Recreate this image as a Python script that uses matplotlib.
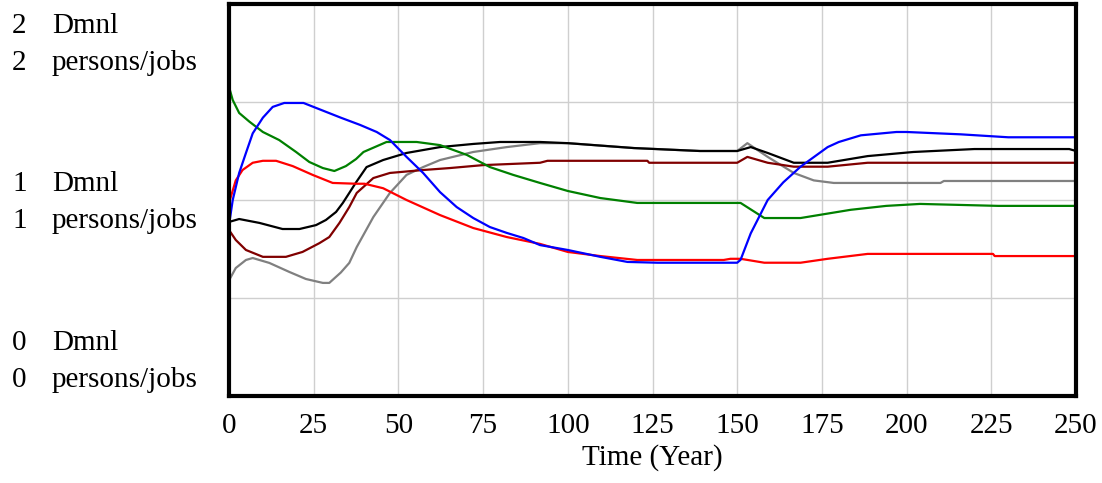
import matplotlib
matplotlib.use("Agg")
import matplotlib.pyplot as plt

plt.rcParams['font.family'] = ['Liberation Serif', 'DejaVu Serif']

# data (time in years, value)
blue_t = [0, 1.1, 3, 5, 7, 10, 12.9, 16.3, 22, 28.6, 33, 38.7, 43.6, 47.5, 52.4, 57.3, 62.3, 67.2,
          72.1, 77, 82, 86.9, 91.8, 100, 109.6, 117.6, 126.5, 150, 151, 154, 159, 163.6, 168.7,
          176.7, 180, 186.5, 197, 200, 216, 230, 250]
blue_v = [0.872, 1.0, 1.138, 1.24, 1.34, 1.42, 1.475, 1.495, 1.495, 1.45, 1.42, 1.383, 1.347, 1.306,
          1.22, 1.138, 1.04, 0.964, 0.908, 0.862, 0.832, 0.806, 0.77, 0.745, 0.71, 0.684, 0.68, 0.68,
          0.695, 0.83, 1.0, 1.09, 1.17, 1.27, 1.296, 1.33, 1.347, 1.347, 1.335, 1.32, 1.32]

red_t = [0, 2, 4, 7, 10, 13.9, 18.8, 24.7, 30.6, 37.5, 40, 45.5, 52.4, 62.3, 72.1, 82, 91.8, 100,
         109.6, 120.5, 146, 148, 151, 158, 168.7, 176.7, 188.5, 225.5, 226, 250]
red_v = [0.985, 1.10, 1.153, 1.19, 1.2, 1.2, 1.173, 1.128, 1.087, 1.083, 1.083, 1.06, 1.0, 0.923,
         0.857, 0.811, 0.776, 0.735, 0.714, 0.694, 0.694, 0.70, 0.70, 0.68, 0.68, 0.70, 0.725, 0.725,
         0.714, 0.714]

green_t = [0, 1.1, 3, 6, 10, 14.8, 19.8, 23.7, 27.7, 31.1, 34.5, 37.5, 39.7, 46.5, 55.4, 62.3, 70.2,
           77, 83.9, 91.8, 100, 109.6, 120.5, 151, 158, 168.7, 183.5, 194, 204, 227, 250]
green_v = [1.577, 1.51, 1.444, 1.40, 1.347, 1.306, 1.245, 1.194, 1.163, 1.148, 1.173, 1.209, 1.245,
           1.296, 1.296, 1.28, 1.23, 1.168, 1.128, 1.087, 1.046, 1.01, 0.985, 0.985, 0.908, 0.908,
           0.95, 0.97, 0.98, 0.97, 0.97]

black_t = [0, 3, 9, 15.8, 20.8, 25.7, 28.6, 31.6, 33.6, 35.5, 37.5, 40.6, 45.5, 52.4, 62.3, 72.1, 80,
           91.8, 100, 119.5, 139, 150, 154, 159, 166.7, 176.7, 188.5, 202, 220, 248, 250]
black_v = [0.888, 0.903, 0.883, 0.852, 0.852, 0.872, 0.898, 0.939, 0.985, 1.036, 1.09, 1.168, 1.204,
           1.24, 1.27, 1.286, 1.296, 1.296, 1.29, 1.265, 1.25, 1.25, 1.27, 1.24, 1.19, 1.19, 1.224,
           1.245, 1.26, 1.26, 1.25]

maroon_t = [0, 2, 5, 10, 16.8, 21.7, 26.7, 29.6, 32.6, 35.5, 37.7, 42.6, 47.5, 57.3, 65.2, 75, 91.8,
            94, 123.5, 124, 150, 153, 159, 166.7, 176.7, 188.5, 250]
maroon_v = [0.847, 0.796, 0.745, 0.71, 0.71, 0.735, 0.78, 0.811, 0.883, 0.964, 1.036, 1.112, 1.138,
            1.153, 1.163, 1.178, 1.19, 1.2, 1.2, 1.19, 1.19, 1.22, 1.19, 1.17, 1.17, 1.19, 1.19]

gray_t = [0, 2, 5, 7, 11.9, 17.8, 22.7, 27.7, 29.6, 33, 35.5, 37.7, 42.6, 47.5, 52.4, 57.3, 62.3,
          72.1, 82, 91.8, 100, 119.5, 139, 150, 153, 159, 166.7, 172.6, 178.5, 210, 211, 250]
gray_v = [0.59, 0.653, 0.694, 0.704, 0.679, 0.633, 0.597, 0.577, 0.577, 0.63, 0.679, 0.76, 0.913,
          1.036, 1.128, 1.168, 1.204, 1.245, 1.27, 1.29, 1.29, 1.265, 1.25, 1.25, 1.29, 1.22, 1.138,
          1.10, 1.087, 1.087, 1.097, 1.097]

x_ticks = [0, 25, 50, 75, 100, 125, 150, 175, 200, 225, 250]
y_values = ["2", "1", "0"]
units = ["Dmnl", "persons/jobs"]

fig = plt.figure(figsize=(11.02, 4.83), dpi=100)
ax = fig.add_axes([229 / 1102, 1 - 396 / 483, 847 / 1102, 392 / 483])

ax.plot(gray_t, gray_v, color='#808080', lw=1.6)
ax.plot(maroon_t, maroon_v, color='#800000', lw=1.6)
ax.plot(black_t, black_v, color='black', lw=1.6)
ax.plot(green_t, green_v, color='#008000', lw=1.6)
ax.plot(red_t, red_v, color='#ff0000', lw=1.6)
ax.plot(blue_t, blue_v, color='#0000ff', lw=1.6)

ax.set_xlim(0, 250)
ax.set_ylim(0, 2)
ax.set_xticks(x_ticks)
ax.set_xticklabels([str(t) for t in x_ticks])
ax.set_yticks([0.5, 1, 1.5])
ax.set_yticklabels([])
ax.grid(True, color='#cfcfcf', lw=1)
ax.set_axisbelow(True)
ax.tick_params(axis='x', length=0, pad=12, labelsize=21)
ax.tick_params(axis='y', length=0)
for s in ax.spines.values():
    s.set_linewidth(3)
    s.set_color('black')
ax.set_xlabel("Time (Year)", fontsize=21, labelpad=4)

# left-hand unit labels
baselines = [(33, 70), (191, 228), (350, 387)]
for val, (b1, b2) in zip(y_values, baselines):
    fig.text(12 / 1102, 1 - b1 / 483, val, fontsize=21, va='baseline')
    fig.text(52 / 1102, 1 - b1 / 483, units[0], fontsize=21, va='baseline')
    fig.text(12 / 1102, 1 - b2 / 483, val, fontsize=21, va='baseline')
    fig.text(52 / 1102, 1 - b2 / 483, units[1], fontsize=21, va='baseline')

fig.savefig("out.png", dpi=100)
